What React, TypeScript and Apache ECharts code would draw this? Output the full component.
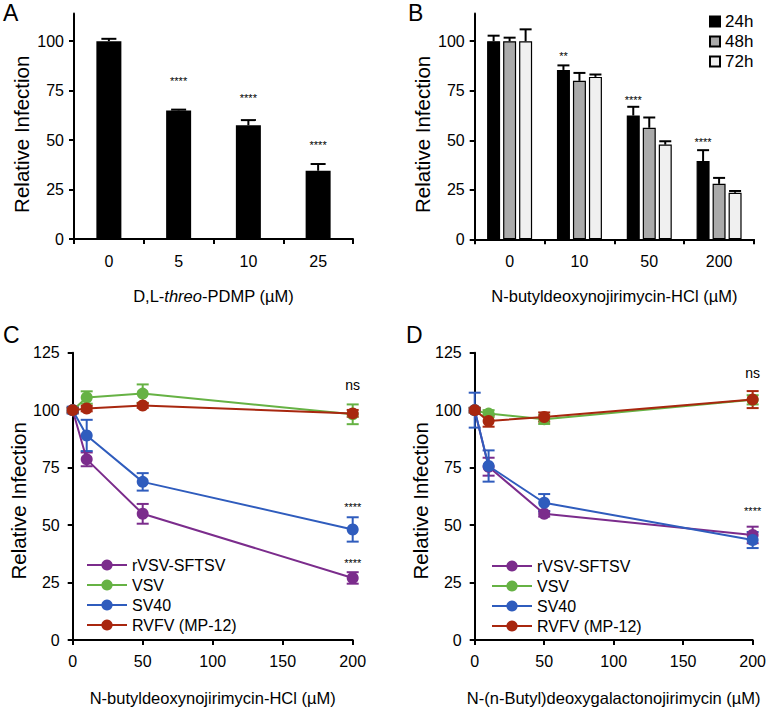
import React, { useEffect, useRef } from 'react';
import * as echarts from 'echarts';

const FONT = '"Liberation Sans", Arial, Helvetica, sans-serif';

// ---------- Panel A ----------
const catsA = ['0', '5', '10', '25'];
const valA = [100, 65, 57.5, 34.5];
const errA = [1.2, 0.4, 2.6, 3.4];
const starA = ['', '****', '****', '****'];
const starPosA = [0, 79.7, 71.1, 47.5];

// ---------- Panel B ----------
const catsB = ['0', '10', '50', '200'];
const timeNames = ['24h', '48h', '72h'];
const valB24 = [100, 85.5, 62.5, 39.5];
const errB24 = [2.8, 2.3, 4.4, 5.5];
const valB48 = [100, 80, 56.3, 28];
const errB48 = [1.8, 4, 5.2, 3];
const valB72 = [100, 82, 47.8, 23.5];
const errB72 = [6, 1.2, 1.7, 0.9];
const starB = ['', '**', '****', '****'];
const starPosB = [0, 92.7, 70.5, 48.9];

// ---------- Panels C & D ----------
const dose = [0, 10, 50, 200];
const virusNames = ['rVSV-SFTSV', 'VSV', 'SV40', 'RVFV (MP-12)'];

const C_rvsv = [100, 78.6, 54.9, 27];
const C_rvsvErr = [1, 3, 4.3, 2.5];
const C_vsv = [100, 105.5, 107.2, 98.2];
const C_vsvErr = [1, 2.7, 4, 4.3];
const C_sv40 = [100, 89, 68.8, 48.1];
const C_sv40Err = [1.5, 6.8, 3.8, 5.3];
const C_rvfv = [100, 100.7, 102, 98.6];
const C_rvfvErr = [1, 1.2, 1, 1.5];

const D_rvsv = [100, 75.4, 54.9, 45.7];
const D_rvsvErr = [1, 3.9, 1.2, 3.6];
const D_vsv = [100, 98.5, 96, 104.5];
const D_vsvErr = [1, 1.5, 2, 2];
const D_sv40 = [100, 75.7, 59.7, 43.5];
const D_sv40Err = [7.6, 6.8, 3.8, 3.5];
const D_rvfv = [100, 95.3, 97, 104.6];
const D_rvfvErr = [1, 2.5, 2, 3.7];

const annCText = ['ns', '****', '****'];
const annCX = [200, 200, 200];
const annCY = [111, 57.7, 33.7];
const annDText = ['ns', '****'];
const annDX = [200, 200];
const annDY = [116.3, 56.2];

const yTicksAB = [0, 25, 50, 75, 100];
const panelLetters = ['A', 'B', 'C', 'D'];

const COLORS = ['#7b2c8c', '#66b244', '#2f5cbd', '#a8270f'];
const BAR_COLORS = ['#000000', '#aaaaaa', '#f0f0f0'];
const BAR_W = 13;
const BAR_GAP = 3;

const axisLine = { show: true, lineStyle: { color: '#000', width: 2 } };
const axisTick = { show: true, length: 5, lineStyle: { color: '#000', width: 2 } };

function upperErr(offset: number, capW: number) {
  return (params: any, api: any) => {
    const x = api.value(0);
    const v = api.value(1);
    const e = api.value(2);
    const p0 = api.coord([x, v]);
    const p1 = api.coord([x, v + e]);
    const cx = p0[0] + offset;
    const st = { stroke: '#000', lineWidth: 2 };
    return {
      type: 'group',
      children: [
        { type: 'line', shape: { x1: cx, y1: p0[1], x2: cx, y2: p1[1] }, style: st },
        { type: 'line', shape: { x1: cx - capW / 2, y1: p1[1], x2: cx + capW / 2, y2: p1[1] }, style: st },
      ],
    };
  };
}

function symErr(color: string, capW: number) {
  return (params: any, api: any) => {
    const x = api.value(0);
    const v = api.value(1);
    const e = api.value(2);
    const lo = api.coord([x, v - e]);
    const hi = api.coord([x, v + e]);
    const cx = lo[0];
    const st = { stroke: color, lineWidth: 2 };
    return {
      type: 'group',
      children: [
        { type: 'line', shape: { x1: cx, y1: lo[1], x2: cx, y2: hi[1] }, style: st },
        { type: 'line', shape: { x1: cx - capW / 2, y1: lo[1], x2: cx + capW / 2, y2: lo[1] }, style: st },
        { type: 'line', shape: { x1: cx - capW / 2, y1: hi[1], x2: cx + capW / 2, y2: hi[1] }, style: st },
      ],
    };
  };
}

function annot(texts: string[], offset: number) {
  return (params: any, api: any) => {
    const p = api.coord([api.value(0), api.value(1)]);
    const t = texts[params.dataIndex];
    const size = t === 'ns' ? 14 : 11;
    return {
      type: 'text',
      x: p[0] + offset,
      y: p[1],
      style: {
        text: t,
        fill: '#000',
        fontSize: size,
        fontFamily: FONT,
        align: 'center',
        verticalAlign: 'middle',
      },
    };
  };
}

function xName(size = 16.5) {
  return { fontSize: size, color: '#000', fontFamily: FONT };
}

function yAxisCommon(grid: number, max: number, customTicks: boolean, pad: number) {
  const o: any = {
    gridIndex: grid,
    type: 'value',
    min: 0,
    max,
    interval: 25,
    splitLine: { show: false },
    axisLine,
    axisTick: { ...axisTick },
    axisLabel: { color: '#000', fontSize: 16, fontFamily: FONT, margin: grid < 2 ? 10 : 13 },
    name: 'Relative Infection',
    nameLocation: 'middle',
    nameGap: 42,
    nameTextStyle: { fontSize: 20.5, color: '#000', fontFamily: FONT, padding: [0, pad, 0, 0] },
  };
  if (customTicks) {
    o.axisTick.customValues = yTicksAB;
    o.axisLabel.customValues = yTicksAB;
  }
  return o;
}

export default function App() {
  const ref = useRef<HTMLDivElement>(null);

  useEffect(() => {
    if (!ref.current) return;
    const chart = echarts.init(ref.current, undefined, { renderer: 'svg' });

    const bVals = [valB24, valB48, valB72];
    const bErrs = [errB24, errB48, errB72];
    const cVals = [C_rvsv, C_vsv, C_sv40, C_rvfv];
    const cErrs = [C_rvsvErr, C_vsvErr, C_sv40Err, C_rvfvErr];
    const dVals = [D_rvsv, D_vsv, D_sv40, D_rvfv];
    const dErrs = [D_rvsvErr, D_vsvErr, D_sv40Err, D_rvfvErr];

    const series: any[] = [];

    // A
    series.push({
      type: 'bar', xAxisIndex: 0, yAxisIndex: 0, data: valA, barWidth: 25,
      itemStyle: { color: '#000' }, z: 2,
    });
    series.push({
      type: 'custom', xAxisIndex: 0, yAxisIndex: 0, z: 3,
      data: valA.map((v, i) => [i, v, errA[i]]),
      renderItem: upperErr(0, 15),
    });
    const aIdx = starA.map((s, i) => i).filter((i) => starA[i] !== '');
    series.push({
      type: 'custom', xAxisIndex: 0, yAxisIndex: 0, z: 4,
      data: aIdx.map((i) => [i, starPosA[i]]),
      renderItem: annot(aIdx.map((i) => starA[i]), 0),
    });

    // B
    timeNames.forEach((n, k) => {
      series.push({
        type: 'bar', name: n, xAxisIndex: 1, yAxisIndex: 1, data: bVals[k],
        barWidth: BAR_W, barGap: ((BAR_GAP / BAR_W) * 100).toFixed(1) + '%',
        itemStyle: { color: BAR_COLORS[k], borderColor: '#000', borderWidth: 1.2 }, z: 2,
      });
    });
    timeNames.forEach((n, k) => {
      series.push({
        type: 'custom', xAxisIndex: 1, yAxisIndex: 1, z: 3,
        data: bVals[k].map((v, i) => [i, v, bErrs[k][i]]),
        renderItem: upperErr((k - 1) * (BAR_W + BAR_GAP), 12),
      });
    });
    const bIdx = starB.map((s, i) => i).filter((i) => starB[i] !== '');
    series.push({
      type: 'custom', xAxisIndex: 1, yAxisIndex: 1, z: 4,
      data: bIdx.map((i) => [i, starPosB[i]]),
      renderItem: annot(bIdx.map((i) => starB[i]), -(BAR_W + BAR_GAP)),
    });

    // C & D
    const addLines = (grid: number, vals: number[][], errs: number[][]) => {
      virusNames.forEach((n, k) => {
        series.push({
          type: 'custom', xAxisIndex: grid, yAxisIndex: grid, z: 2,
          data: dose.map((d, i) => [d, vals[k][i], errs[k][i]]),
          renderItem: symErr(COLORS[k], 12),
        });
      });
      virusNames.forEach((n, k) => {
        series.push({
          type: 'line', name: n, xAxisIndex: grid, yAxisIndex: grid, z: 3 + k * 0.01,
          data: dose.map((d, i) => [d, vals[k][i]]),
          symbol: 'circle', symbolSize: 12,
          lineStyle: { color: COLORS[k], width: 2 },
          itemStyle: { color: COLORS[k] },
        });
      });
    };
    addLines(2, cVals, cErrs);
    addLines(3, dVals, dErrs);

    series.push({
      type: 'custom', xAxisIndex: 2, yAxisIndex: 2, z: 5,
      data: annCX.map((x, i) => [x, annCY[i]]),
      renderItem: annot(annCText, 0),
    });
    series.push({
      type: 'custom', xAxisIndex: 3, yAxisIndex: 3, z: 5,
      data: annDX.map((x, i) => [x, annDY[i]]),
      renderItem: annot(annDText, 0),
    });

    const catAxis = (grid: number, data: string[], name: string, rich?: any) => ({
      gridIndex: grid,
      type: 'category',
      data,
      axisLine,
      axisTick,
      axisLabel: { color: '#000', fontSize: 16, fontFamily: FONT, margin: 14 },
      name,
      nameLocation: 'middle',
      nameGap: 48,
      nameTextStyle: { ...xName(), ...(rich ? { rich } : {}) },
    });

    const valXAxis = (grid: number, name: string) => ({
      gridIndex: grid,
      type: 'value',
      min: 0,
      max: 200,
      interval: 50,
      splitLine: { show: false },
      axisLine,
      axisTick,
      axisLabel: { color: '#000', fontSize: 16, fontFamily: FONT, margin: 13 },
      name,
      nameLocation: 'middle',
      nameGap: 49,
      nameTextStyle: xName(),
    });

    const legendText = { fontSize: 16, color: '#000', fontFamily: FONT };

    const letterPos = [
      [3, 1],
      [408, 1],
      [3, 323],
      [406, 323],
    ];

    chart.setOption({
      animation: false,
      backgroundColor: '#fff',
      grid: [
        { left: 74, top: 13.5, width: 279, height: 225.5 },
        { left: 474.7, top: 13.5, width: 279.3, height: 225.8 },
        { left: 72.7, top: 352.7, width: 280, height: 287.3 },
        { left: 474.7, top: 352.7, width: 278.3, height: 287.3 },
      ],
      xAxis: [
        catAxis(0, catsA, 'D,L-{i|threo}-PDMP (µM)', {
          i: { fontStyle: 'italic', fontSize: 16.5, color: '#000', fontFamily: FONT },
        }),
        catAxis(1, catsB, 'N-butyldeoxynojirimycin-HCl (µM)'),
        valXAxis(2, 'N-butyldeoxynojirimycin-HCl (µM)'),
        valXAxis(3, 'N-(n-Butyl)deoxygalactonojirimycin (µM)'),
      ],
      yAxis: [
        yAxisCommon(0, 114, true, 16),
        yAxisCommon(1, 114, true, 16),
        yAxisCommon(2, 125, false, 9),
        yAxisCommon(3, 125, false, 9),
      ],
      legend: [
        {
          data: timeNames, orient: 'vertical', left: 709, top: 13, padding: 0,
          itemWidth: 10, itemHeight: 10, itemGap: 3, icon: 'rect', selectedMode: false,
          textStyle: { ...legendText, fontSize: 17 },
        },
        {
          data: virusNames, orient: 'vertical', left: 86, top: 557, padding: 0,
          itemWidth: 40, itemHeight: 14, itemGap: 4, selectedMode: false,
          textStyle: legendText,
        },
        {
          data: virusNames, orient: 'vertical', left: 491, top: 558, padding: 0,
          itemWidth: 40, itemHeight: 14, itemGap: 4, selectedMode: false,
          textStyle: legendText,
        },
      ],
      graphic: panelLetters.map((t, i) => ({
        type: 'text',
        x: letterPos[i][0],
        y: letterPos[i][1],
        style: { text: t, fontSize: 23, fontFamily: FONT, fill: '#000', verticalAlign: 'top' },
      })),
      series,
    });

    return () => chart.dispose();
  }, []);

  return (
    <div
      ref={ref}
      style={{ position: 'fixed', left: 0, top: 0, width: 769, height: 709, background: '#fff' }}
    />
  );
}
